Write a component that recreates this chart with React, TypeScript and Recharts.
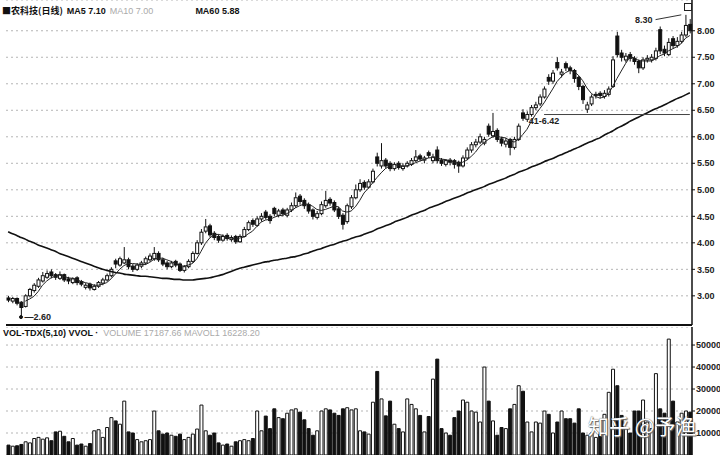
import {
  ComposedChart,
  Bar,
  Line,
  XAxis,
  YAxis,
  CartesianGrid,
  Cell,
  ReferenceDot,
  ReferenceLine,
} from "recharts";

// daily candles (left to right)
const OPEN = [
  2.96, 2.90, 2.95, 2.88, 2.80, 3.00, 3.10, 3.18, 3.28, 3.35,
  3.45, 3.40, 3.33, 3.40, 3.32, 3.25, 3.34, 3.27, 3.16, 3.22,
  3.12, 3.18, 3.24, 3.30, 3.38, 3.66, 3.58, 3.62, 3.68, 3.56,
  3.50, 3.56, 3.62, 3.68, 3.70, 3.80, 3.68, 3.62, 3.55, 3.65,
  3.60, 3.48, 3.55, 3.65, 3.80, 4.00, 4.22, 4.32, 4.18, 4.12,
  4.05, 4.14, 4.06, 4.12, 4.02, 4.12, 4.25, 4.42, 4.33, 4.45,
  4.58, 4.50, 4.65, 4.52, 4.62, 4.52, 4.62, 4.70, 4.88, 4.80,
  4.72, 4.62, 4.48, 4.55, 4.70, 4.82, 4.76, 4.64, 4.52, 4.40,
  4.68, 4.85, 5.00, 5.14, 5.05, 5.15, 5.62, 5.45, 5.56, 5.50,
  5.40, 5.50, 5.40, 5.45, 5.48, 5.55, 5.64, 5.56, 5.70, 5.55,
  5.75, 5.56, 5.48, 5.56, 5.55, 5.52, 5.45, 5.60, 5.75, 5.85,
  5.90, 5.88, 6.20, 6.02, 6.12, 5.96, 5.86, 5.95, 5.80, 5.95,
  6.45, 6.33, 6.42, 6.55, 6.62, 6.75, 7.12, 7.05, 7.40, 7.18,
  7.38, 7.30, 7.25, 7.12, 6.95, 6.52, 6.62, 6.78, 6.82, 6.76,
  6.80, 6.95, 7.90, 7.58, 7.45, 7.55, 7.48, 7.42, 7.30, 7.45,
  7.45, 7.48, 8.02, 7.65, 7.55, 7.85, 7.72, 7.80, 7.92, 8.12,
];

const CLOSE = [
  2.92, 2.95, 2.86, 2.78, 3.00, 3.12, 3.20, 3.30, 3.38, 3.42,
  3.38, 3.35, 3.40, 3.30, 3.28, 3.32, 3.25, 3.22, 3.20, 3.15,
  3.18, 3.25, 3.30, 3.38, 3.50, 3.60, 3.70, 3.68, 3.55, 3.50,
  3.58, 3.62, 3.70, 3.75, 3.80, 3.68, 3.60, 3.55, 3.62, 3.58,
  3.48, 3.55, 3.65, 3.80, 4.00, 4.20, 4.30, 4.15, 4.10, 4.05,
  4.12, 4.08, 4.10, 4.02, 4.12, 4.25, 4.38, 4.35, 4.45, 4.50,
  4.48, 4.42, 4.55, 4.60, 4.55, 4.62, 4.70, 4.85, 4.78, 4.70,
  4.60, 4.50, 4.55, 4.72, 4.80, 4.75, 4.62, 4.50, 4.35, 4.70,
  4.85, 5.00, 5.12, 5.05, 5.15, 5.35, 5.50, 5.55, 5.45, 5.40,
  5.48, 5.42, 5.45, 5.50, 5.55, 5.62, 5.58, 5.60, 5.65, 5.62,
  5.55, 5.50, 5.55, 5.52, 5.48, 5.45, 5.60, 5.75, 5.85, 5.90,
  6.00, 5.95, 6.05, 6.10, 5.95, 5.88, 5.92, 5.80, 5.95, 6.20,
  6.35, 6.42, 6.55, 6.60, 6.75, 6.90, 7.05, 7.20, 7.30, 7.22,
  7.30, 7.25, 7.10, 6.95, 6.70, 6.60, 6.75, 6.80, 6.78, 6.82,
  6.90, 7.45, 7.55, 7.50, 7.52, 7.48, 7.42, 7.30, 7.45, 7.48,
  7.50, 7.62, 7.62, 7.58, 7.78, 7.72, 7.80, 7.92, 8.10, 8.00,
];

const HIGH = [
  3.00, 2.98, 2.97, 2.90, 3.03, 3.15, 3.24, 3.34, 3.45, 3.48,
  3.50, 3.43, 3.46, 3.42, 3.36, 3.35, 3.37, 3.30, 3.24, 3.25,
  3.22, 3.28, 3.34, 3.42, 3.54, 3.70, 3.74, 3.92, 3.72, 3.60,
  3.62, 3.66, 3.74, 3.80, 3.92, 3.84, 3.72, 3.66, 3.66, 3.68,
  3.63, 3.58, 3.69, 3.84, 4.05, 4.26, 4.45, 4.36, 4.22, 4.16,
  4.16, 4.18, 4.14, 4.15, 4.16, 4.30, 4.42, 4.46, 4.50, 4.56,
  4.62, 4.54, 4.68, 4.64, 4.66, 4.66, 4.76, 4.95, 4.92, 4.84,
  4.76, 4.65, 4.60, 4.78, 4.98, 4.86, 4.80, 4.68, 4.56, 4.74,
  4.90, 5.10, 5.20, 5.18, 5.20, 5.40, 5.70, 5.88, 5.60, 5.54,
  5.52, 5.54, 5.50, 5.54, 5.60, 5.75, 5.68, 5.64, 5.74, 5.68,
  5.82, 5.60, 5.58, 5.60, 5.58, 5.55, 5.65, 5.80, 5.90, 5.96,
  6.06, 6.00, 6.25, 6.45, 6.16, 6.00, 5.98, 5.98, 6.00, 6.25,
  6.52, 6.48, 6.60, 6.66, 6.80, 6.95, 7.18, 7.26, 7.50, 7.28,
  7.42, 7.34, 7.28, 7.15, 6.98, 6.66, 6.80, 6.85, 6.86, 6.88,
  6.95, 7.52, 7.98, 7.64, 7.58, 7.60, 7.52, 7.46, 7.50, 7.54,
  7.56, 7.68, 8.08, 7.72, 7.86, 7.90, 7.88, 7.98, 8.30, 8.22,
];

const LOW = [
  2.88, 2.86, 2.82, 2.60, 2.78, 2.97, 3.06, 3.15, 3.25, 3.32,
  3.33, 3.30, 3.30, 3.26, 3.22, 3.22, 3.20, 3.18, 3.12, 3.10,
  3.10, 3.15, 3.20, 3.27, 3.35, 3.52, 3.55, 3.60, 3.50, 3.45,
  3.47, 3.52, 3.58, 3.64, 3.66, 3.64, 3.56, 3.50, 3.52, 3.54,
  3.45, 3.44, 3.52, 3.62, 3.78, 3.96, 4.18, 4.10, 4.05, 4.00,
  4.02, 4.04, 4.02, 3.98, 4.00, 4.10, 4.22, 4.30, 4.30, 4.40,
  4.44, 4.36, 4.50, 4.48, 4.50, 4.48, 4.58, 4.66, 4.72, 4.64,
  4.55, 4.44, 4.44, 4.52, 4.66, 4.70, 4.58, 4.45, 4.25, 4.36,
  4.64, 4.82, 4.96, 5.00, 5.02, 5.12, 5.44, 5.40, 5.40, 5.35,
  5.36, 5.38, 5.36, 5.42, 5.45, 5.52, 5.54, 5.50, 5.60, 5.50,
  5.50, 5.45, 5.44, 5.46, 5.40, 5.32, 5.42, 5.56, 5.70, 5.80,
  5.86, 5.84, 6.00, 5.98, 5.90, 5.82, 5.80, 5.65, 5.76, 5.92,
  6.30, 6.28, 6.38, 6.50, 6.58, 6.72, 6.98, 7.00, 7.25, 7.12,
  7.24, 7.18, 7.02, 6.88, 6.62, 6.45, 6.58, 6.72, 6.72, 6.72,
  6.76, 6.92, 7.50, 7.42, 7.40, 7.42, 7.36, 7.20, 7.26, 7.40,
  7.40, 7.44, 7.56, 7.52, 7.52, 7.66, 7.68, 7.76, 7.88, 7.95,
];

const VOLUME = [
  4500, 4000, 4200, 4800, 6000, 5500, 7500, 8000, 7200, 7800,
  6500, 10500, 10800, 8500, 6000, 7500, 4500, 5000, 4000, 5200,
  11000, 11500, 8000, 12500, 17000, 15500, 14000, 24500, 10500, 10000,
  7000, 6000, 6500, 7000, 20000, 11000, 9500, 10000, 9000, 8500,
  9500, 7000, 8000, 9500, 11800, 22700, 11000, 9000, 10000, 5500,
  4500, 5000, 4000, 6000, 6500, 7000, 6500, 7500, 20000, 11000,
  17700, 12000, 21000, 17000, 16500, 19000, 20500, 21000, 19500, 16000,
  12000, 9000, 11000, 20000, 21000, 20500, 19000, 18000, 21000, 21500,
  20500, 21000, 11000, 10500, 9500, 24000, 38000, 25500, 17800, 24500,
  14000, 12000, 10500, 25500, 23000, 21000, 18000, 10500, 17500, 34500,
  43600, 12000, 10000, 9000, 17000, 20000, 25000, 24000, 20000, 19500,
  15000, 40000, 24500, 15500, 9000, 12500, 12000, 21000, 23000, 31500,
  29000, 15000, 10500, 15000, 14500, 20000, 18500, 10000, 15000, 20000,
  16500, 16500, 14500, 21000, 10000, 9000, 10000, 8000, 10000, 18500,
  28500, 39000, 31500, 18000, 12000, 10000, 20000, 20000, 25000, 15000,
  12000, 37000, 21000, 19000, 52700, 24500, 15000, 19000, 20000, 19500,
];

const MA5 = [
  null, null, null, null, 2.90, 2.94, 2.99, 3.08, 3.20, 3.28,
  3.34, 3.37, 3.39, 3.37, 3.34, 3.33, 3.31, 3.27, 3.25, 3.23,
  3.20, 3.20, 3.22, 3.25, 3.32, 3.41, 3.50, 3.57, 3.61, 3.61,
  3.60, 3.59, 3.59, 3.63, 3.69, 3.71, 3.71, 3.68, 3.65, 3.61,
  3.57, 3.56, 3.58, 3.61, 3.70, 3.84, 3.99, 4.09, 4.15, 4.16,
  4.14, 4.10, 4.09, 4.07, 4.09, 4.11, 4.17, 4.22, 4.31, 4.39,
  4.43, 4.44, 4.48, 4.51, 4.52, 4.55, 4.60, 4.66, 4.70, 4.73,
  4.73, 4.69, 4.63, 4.61, 4.63, 4.66, 4.69, 4.68, 4.60, 4.58,
  4.60, 4.68, 4.80, 4.94, 5.03, 5.13, 5.23, 5.32, 5.40, 5.45,
  5.48, 5.46, 5.44, 5.45, 5.48, 5.51, 5.54, 5.57, 5.60, 5.61,
  5.60, 5.58, 5.57, 5.55, 5.52, 5.50, 5.52, 5.56, 5.63, 5.71,
  5.82, 5.89, 5.95, 6.00, 6.01, 5.99, 5.98, 5.93, 5.90, 5.95,
  6.04, 6.14, 6.29, 6.42, 6.53, 6.64, 6.77, 6.90, 7.04, 7.13,
  7.21, 7.25, 7.23, 7.16, 7.06, 6.92, 6.82, 6.76, 6.73, 6.75,
  6.81, 6.95, 7.10, 7.24, 7.38, 7.50, 7.49, 7.44, 7.43, 7.43,
  7.43, 7.47, 7.53, 7.56, 7.62, 7.66, 7.70, 7.76, 7.86, 7.91,
];

const MA60 = [
  4.21, 4.17, 4.14, 4.10, 4.07, 4.03, 4.00, 3.96, 3.93, 3.90,
  3.87, 3.84, 3.80, 3.77, 3.74, 3.71, 3.68, 3.65, 3.62, 3.59,
  3.56, 3.53, 3.50, 3.48, 3.46, 3.44, 3.43, 3.41, 3.40, 3.39,
  3.38, 3.37, 3.37, 3.36, 3.35, 3.34, 3.33, 3.33, 3.32, 3.31,
  3.31, 3.30, 3.30, 3.30, 3.31, 3.32, 3.33, 3.34, 3.36, 3.38,
  3.40, 3.43, 3.46, 3.49, 3.52, 3.54, 3.56, 3.58, 3.60, 3.62,
  3.64, 3.65, 3.67, 3.68, 3.70, 3.71, 3.73, 3.74, 3.76, 3.79,
  3.81, 3.84, 3.87, 3.89, 3.92, 3.95, 3.97, 4.00, 4.03, 4.05,
  4.08, 4.11, 4.13, 4.16, 4.19, 4.22, 4.26, 4.29, 4.32, 4.35,
  4.39, 4.42, 4.45, 4.48, 4.52, 4.55, 4.58, 4.61, 4.65, 4.68,
  4.71, 4.74, 4.78, 4.81, 4.84, 4.87, 4.90, 4.94, 4.97, 5.00,
  5.03, 5.06, 5.10, 5.13, 5.16, 5.19, 5.22, 5.26, 5.29, 5.33,
  5.36, 5.39, 5.43, 5.46, 5.49, 5.53, 5.56, 5.59, 5.63, 5.66,
  5.70, 5.73, 5.77, 5.80, 5.84, 5.88, 5.91, 5.95, 5.98, 6.03,
  6.07, 6.11, 6.16, 6.20, 6.24, 6.29, 6.33, 6.37, 6.41, 6.45,
  6.49, 6.53, 6.56, 6.60, 6.64, 6.68, 6.72, 6.75, 6.79, 6.83,
];

const PRICE_TICKS = [3, 3.5, 4, 4.5, 5, 5.5, 6, 6.5, 7, 7.5, 8];
const VOL_TICKS = [10000, 20000, 30000, 40000, 50000];

const rows = OPEN.map((open, i) => ({
  day: i + 1,
  open,
  close: CLOSE[i],
  high: HIGH[i],
  low: LOW[i],
  range: [LOW[i], HIGH[i]],
  vol: VOLUME[i],
  ma5: MA5[i],
  ma60: MA60[i],
}));

const INK = "#111";
const tickStyle = { fontSize: 9, fontWeight: 700, fill: "#222", fontFamily: "Liberation Sans, Arial, sans-serif" };

function Candle(props: any) {
  const { x, y, width, height, payload } = props;
  const { open, close, high, low } = payload;
  const k = high > low ? height / (high - low) : 0;
  const yOpen = y + (high - open) * k;
  const yClose = y + (high - close) * k;
  const top = Math.min(yOpen, yClose);
  const bottom = Math.max(yOpen, yClose);
  const cx = x + width / 2;
  const up = close >= open;
  return (
    <g>
      <line x1={cx} x2={cx} y1={y} y2={top} stroke={INK} strokeWidth={1} />
      <line x1={cx} x2={cx} y1={bottom} y2={y + height} stroke={INK} strokeWidth={1} />
      <rect
        x={x}
        y={top}
        width={width}
        height={Math.max(bottom - top, 1)}
        fill={up ? "#fff" : INK}
        stroke={INK}
        strokeWidth={1}
      />
    </g>
  );
}

export default function App() {
  return (
    <div
      style={{
        position: "absolute",
        left: 0,
        top: 0,
        width: 720,
        height: 455,
        background: "#fff",
        overflow: "hidden",
        fontFamily: "Liberation Sans, Arial, sans-serif",
      }}
    >
      <div style={{ position: "absolute", left: 0, top: 0 }}>
        <ComposedChart width={720} height={327} data={rows} margin={{ top: 0, right: 0, left: 6, bottom: 0 }}>
          <CartesianGrid vertical={false} stroke="#b5b5b5" strokeDasharray="2 3" />
          <XAxis dataKey="day" tick={false} tickLine={false} height={2} axisLine={{ stroke: INK, strokeWidth: 2 }} />
          <YAxis
            orientation="right"
            width={28}
            domain={[2.45, 8.58]}
            ticks={PRICE_TICKS}
            interval={0}
            allowDataOverflow
            tickFormatter={(v: number) => v.toFixed(2)}
            tick={tickStyle}
            tickSize={3}
            tickMargin={2}
            axisLine={{ stroke: INK, strokeWidth: 1.5 }}
            tickLine={{ stroke: INK }}
          />
          <Line dataKey="ma60" type="monotone" stroke={INK} strokeWidth={1.6} dot={false} isAnimationActive={false} />
          <Line dataKey="ma5" type="linear" stroke="#222" strokeWidth={1} dot={false} isAnimationActive={false} />
          <Bar dataKey="range" barSize={3} shape={Candle} isAnimationActive={false} />
          <ReferenceLine
            segment={[
              { x: 126, y: 6.42 },
              { x: 160, y: 6.42 },
            ]}
            stroke="#444"
            strokeWidth={1}
          />
          <ReferenceDot
            x={126}
            y={6.42}
            r={0}
            label={{ value: "41-6.42", position: "bottom", offset: 3, fontSize: 9, fontWeight: 700, fill: "#222" }}
          />
          <ReferenceDot
            x={4}
            y={2.6}
            r={1.5}
            fill={INK}
            stroke={INK}
            label={{ value: "—2.60", position: "right", offset: 2, fontSize: 9, fontWeight: 700, fill: "#222" }}
          />
          <ReferenceLine
            segment={[
              { x: 152, y: 8.21 },
              { x: 158, y: 8.3 },
            ]}
            stroke="#333"
            strokeWidth={1}
          />
          <ReferenceDot
            x={152}
            y={8.21}
            r={0}
            label={{ value: "8.30", position: "left", offset: 3, fontSize: 9, fontWeight: 700, fill: "#222" }}
          />
        </ComposedChart>
      </div>

      <div style={{ position: "absolute", left: 0, top: 327 }}>
        <ComposedChart width={720} height={128} data={rows} margin={{ top: 0, right: 0, left: 6, bottom: 0 }}>
          <CartesianGrid vertical={false} stroke="#b5b5b5" strokeDasharray="2 3" />
          <XAxis dataKey="day" hide />
          <YAxis
            orientation="right"
            width={28}
            domain={[0, 58200]}
            ticks={VOL_TICKS}
            interval={0}
            allowDataOverflow
            tick={tickStyle}
            tickSize={3}
            tickMargin={1}
            axisLine={{ stroke: INK, strokeWidth: 1.5 }}
            tickLine={{ stroke: INK }}
          />
          <Bar dataKey="vol" barSize={3} isAnimationActive={false}>
            {rows.map((r) => (
              <Cell
                key={r.day}
                fill={r.close >= r.open ? "#fff" : INK}
                stroke={INK}
                strokeWidth={1}
              />
            ))}
          </Bar>
        </ComposedChart>
      </div>

      {/* header of the price pane */}
      <div style={{ position: "absolute", left: 2, top: 4, fontSize: 9, fontWeight: 700, color: "#111", whiteSpace: "nowrap" }}>
        <span style={{ fontFamily: "Noto Sans CJK SC, sans-serif" }}>■农科技(日线)</span>
        <span style={{ marginLeft: 4 }}>MA5 7.10</span>
        <span style={{ marginLeft: 4, color: "#aaa", fontWeight: 400 }}>MA10 7.00</span>
        <span style={{ marginLeft: 42 }}>MA60 5.88</span>
      </div>
      <div style={{ position: "absolute", left: 684, top: 3, width: 6, height: 6, border: "1px solid #222" }} />

      {/* header of the volume pane */}
      <div style={{ position: "absolute", left: 3, top: 328, fontSize: 9, fontWeight: 700, color: "#111", whiteSpace: "nowrap" }}>
        <span>VOL-TDX(5,10) VVOL ·</span>
        <span style={{ marginLeft: 5, color: "#aaa", fontWeight: 400 }}>VOLUME 17187.66 MAVOL1 16228.20</span>
      </div>

      {/* watermark */}
      <div
        style={{
          position: "absolute",
          left: 588,
          top: 410,
          fontSize: 21,
          color: "#fff",
          fontFamily: "Noto Sans CJK SC, sans-serif",
          textShadow: "0 0 1px #444, 1px 1px 1px #666",
          whiteSpace: "nowrap",
        }}
      >
        知乎 @予渔
      </div>
    </div>
  );
}
